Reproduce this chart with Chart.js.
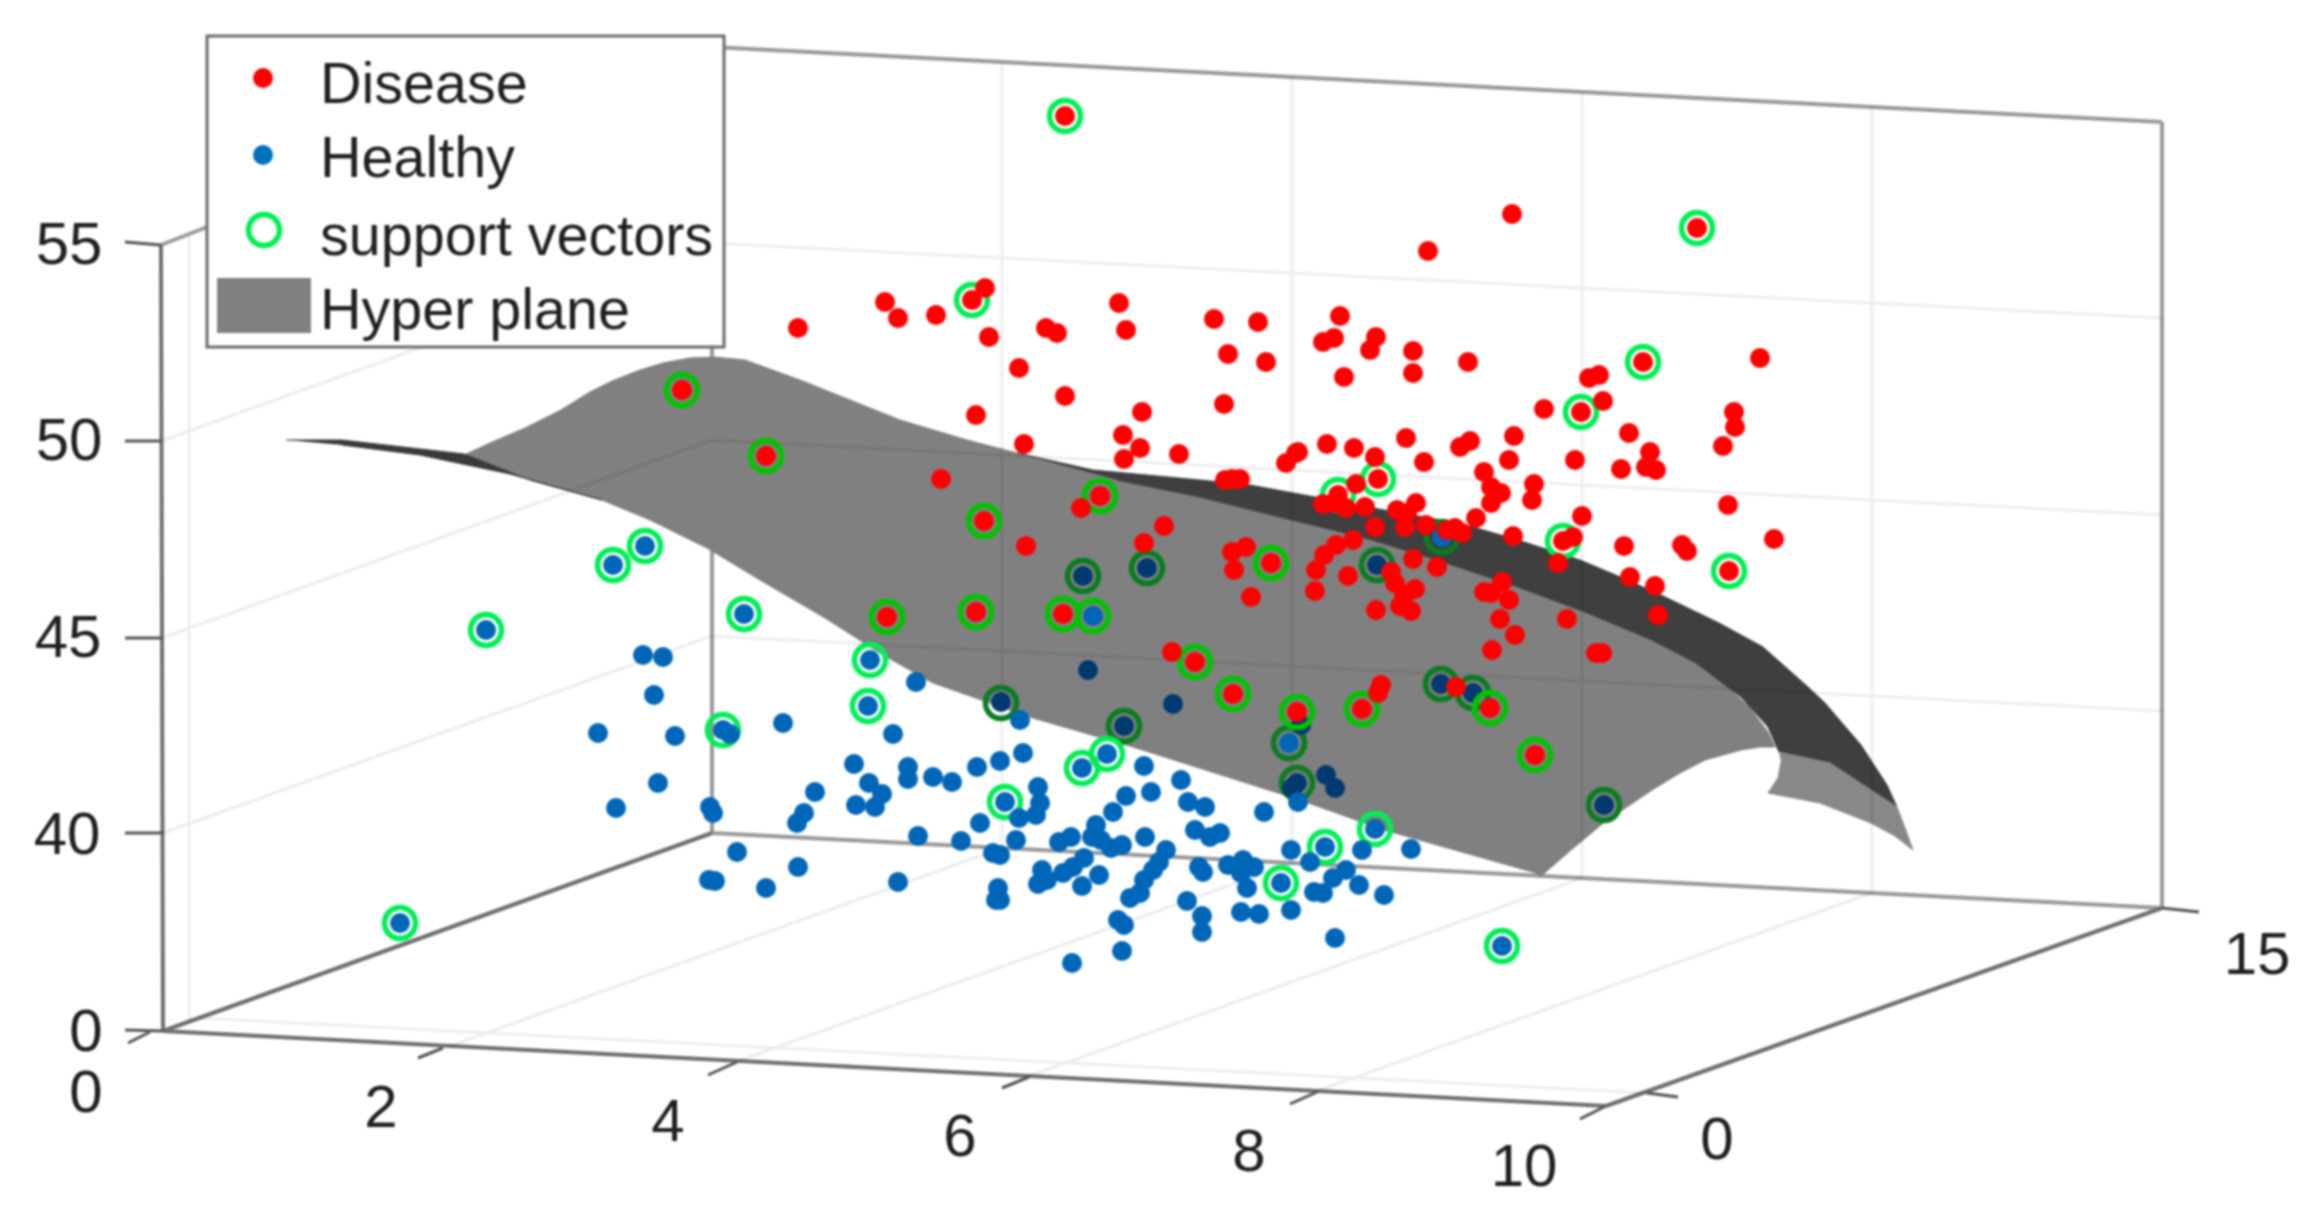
<!DOCTYPE html>
<html>
<head>
<meta charset="utf-8">
<title>Hyper plane</title>
<script src="https://cdn.jsdelivr.net/npm/chart.js@4"></script>
<style>
    body { margin: 0; background: #fff; }
    canvas { display: block; filter: blur(0.8px); }
</style>
</head>
<body>
<canvas id="chart" width="2309" height="1214"></canvas>
<script>
// The source is a 3D plot seen from a fixed camera, so every value here is the
// projected position (horizontal, vertical).

const legendNames = ['Disease', 'Healthy', 'support vectors', 'Hyper plane'];

const disease = [
    [885,302],[898,318],[936,315],[985,288],[989,337],[798,328],[1046,328],[1057,333],[1119,303],[1126,330],
    [1214,319],[1258,322],[1228,354],[1266,362],[1019,368],[1065,396],[976,415],[1142,412],[1224,404],[1123,435],
    [1140,448],[1124,459],[1179,454],[1024,444],[941,479],[1286,463],[1296,453],[1225,480],[1232,479],[1240,479],
    [1081,508],[1026,546],[1164,526],[1144,543],[1232,552],[1246,547],[1234,570],[1251,597],[1172,652],
    [1512,214],[1428,251],[1340,316],[1323,342],[1334,338],[1376,337],[1370,350],[1413,351],[1413,373],[1344,377],
    [1468,362],[1760,358],[1589,378],[1599,375],[1544,409],[1603,401],[1629,433],[1734,412],[1735,427],[1723,446],
    [1514,436],[1509,460],[1575,460],[1621,469],[1650,452],[1646,467],[1656,470],[1406,438],[1424,462],[1460,447],
    [1470,441],[1484,472],[1491,487],[1501,493],[1491,503],[1534,484],[1532,500],[1476,518],[1582,516],[1513,536],
    [1573,537],[1624,546],[1682,545],[1687,551],[1774,539],[1728,505],[1327,444],[1354,448],[1298,452],[1375,457],
    [1356,484],[1323,504],[1346,508],[1365,507],[1334,503],[1397,510],[1416,503],[1407,513],[1405,527],[1426,525],
    [1375,527],[1447,530],[1462,533],[1455,528],[1353,540],[1336,545],[1315,591],[1316,570],[1324,555],[1348,576],
    [1413,559],[1437,567],[1391,572],[1395,583],[1415,589],[1404,595],[1376,610],[1400,606],[1411,611],[1484,592],
    [1502,582],[1509,600],[1491,593],[1500,619],[1515,635],[1492,650],[1567,619],[1596,653],[1602,653],[1658,615],
    [1655,586],[1630,577],[1558,563],[1381,685],[1378,693],[1456,687]
];
const diseaseSupport = [
    [1065,116],[972,300],[1697,228],[1643,362],[1581,412],[1378,479],[1338,495],[1563,541],[1729,571],[682,390],
    [766,456],[984,521],[1100,496],[1271,563],[976,612],[887,617],[1063,614],[1195,662],[1233,694],[1297,712],
    [1362,709],[1490,708],[1535,755]
];

const healthy = [
    [643,655],[663,657],[654,695],[598,733],[675,736],[730,734],[783,723],[658,783],[616,808],[710,807],
    [713,813],[815,792],[804,813],[797,823],[854,764],[869,783],[882,794],[856,805],[875,807],[908,767],
    [908,779],[933,777],[952,782],[977,767],[1000,761],[1023,753],[893,734],[916,682],[1020,720],[1038,787],
    [918,836],[961,841],[980,823],[1016,840],[993,853],[737,852],[798,867],[709,880],[715,881],[766,888],
    [898,882],[998,888],[996,900],[1042,870],[1038,884],[1047,880],[1144,766],[1181,780],[1151,792],[1126,796],
    [1188,802],[1205,807],[1264,812],[1298,802],[1040,803],[1036,815],[1019,818],[1113,812],[1096,825],[1059,842],
    [1071,837],[1092,837],[1101,840],[1111,848],[1122,845],[1145,837],[1195,830],[1210,837],[1220,833],[1411,849],
    [1362,850],[1291,850],[1310,862],[1346,870],[1333,878],[1359,885],[1314,892],[1323,893],[1384,895],[1291,910],
    [1228,865],[1243,860],[1254,867],[1241,873],[1247,888],[1199,867],[1203,872],[1166,850],[1159,862],[1153,870],
    [1144,880],[1140,893],[1130,898],[1187,901],[1202,916],[1202,932],[1241,912],[1259,914],[1335,938],[1122,951],
    [1118,920],[1124,925],[1072,963],[1084,858],[1073,867],[1063,873],[1099,875],[1082,886],[1000,900],[1000,855]
];
const healthySupport = [
    [870,660],[868,706],[1107,754],[1082,768],[1005,802],[1281,883],[1325,847],[1375,829],[1502,946],[400,923],
    [486,630],[613,565],[645,546],[744,614],[723,730],[1093,616],[1289,743],[1442,537]
];
// healthy points that sit behind the surface and show through it darker
const healthyBehind = [
    [1083,576],[1147,568],[1088,670],[1173,704],[1001,702],[1124,726],[1297,783],[1292,788],[1326,775],[1335,788],
    [1377,565],[1441,684],[1473,693],[1604,805],[1301,725]
];

const ringsOpen = [
    [1065,116],[972,300],[1697,228],[1643,362],[1581,412],[1378,479],[1338,495],[1563,541],[1729,571],[870,660],
    [868,706],[1107,754],[1082,768],[1005,802],[1281,883],[1325,847],[1375,829],[1502,946],[400,923],[486,630],
    [613,565],[645,546],[744,614],[723,730]
];
const ringsOnSurface = [
    [682,390],[766,456],[984,521],[1100,496],[1271,563],[976,612],[887,617],[1063,614],[1093,616],[1195,662],
    [1233,694],[1297,712],[1362,709],[1490,708],[1535,755]
];
const ringsBehind = [
    [1083,576],[1147,568],[1001,703],[1124,726],[1289,743],[1297,783],[1377,565],[1441,684],[1473,693],[1604,805],[1442,537]
];

// Surface outlines
const surfaceMain = [
    [464,455],[490,443],[525,428],[561,410],[590,392],[612,381],[640,370],[663,363],[690,358],[714,357],[745,360],
    [800,380],[850,400],[900,420],[967,440],[1017,453],
    [1117,480],[1200,497],[1300,522],[1362,537],[1437,560],[1518,587],[1585,612],[1652,640],[1696,663],[1725,684],[1750,708],
    [1768,732],[1775,747],[1760,747],[1741,750],[1705,760],[1680,773],[1652,790],[1630,805],[1607,820],[1571,850],[1540,877],[1536,873],[1384,830],
    [1300,800],[1133,747],[1033,718],[933,683],[883,655],[825,618],[760,580],[707,548],[650,520],[602,500],[530,480]
];
const surfaceBand = [
    [1017,453],[1093,470],[1200,480],[1250,485],[1315,497],[1384,510],[1441,520],[1473,527],[1518,540],[1580,560],
    [1625,579],[1661,595],[1719,623],[1763,647],[1808,687],[1825,703],[1861,745],[1887,785],[1897,807],[1871,790],[1830,763],[1779,752],[1775,743],
    [1768,727],[1741,697],[1696,663],[1652,640],[1585,612],[1518,587],[1437,560],[1362,537],[1300,522],[1200,497],[1117,480]
];
const surfaceFar = [
    [1779,752],[1830,763],[1871,790],[1897,807],[1905,828],[1913,850],[1895,836],[1871,823],[1820,803],[1768,793],[1778,778],[1781,762]
];
const surfaceTail = [
    [286,440],[342,440],[464,454],[530,480],[602,500],[510,474],[420,455],[342,445]
];

// Box edges, each [x1, y1, x2, y2]
const backEdges = [
    [712,47,2162,122],[712,47,207,227],[207,227,161,245],[712,47,712,833],[2162,122,2162,908],[712,833,2162,908]
];
const frontEdges = [
    [161,245,163,1031],[163,1031,712,833],[163,1031,1606,1106],[1606,1106,2162,908]
];
const gridLines = [
    [161,441,712,243],[712,243,2162,318],[162,638,712,440],[712,440,2162,515],[163,833,712,636],[712,636,2162,711],
    [1002,62,1002,848],[1292,77,1292,863],[1582,92,1582,878],[1872,107,1872,893],
    [450,1046,1002,848],[738,1061,1292,863],[1029,1076,1582,878],[1317,1091,1872,893],
    [189,236,189,1020],[200,1018,1647,1093]
];
const tickMarks = [
    [125,242,161,245],[125,441,161,441],[125,638,162,638],[125,833,163,833],[125,1030,163,1031],
    [150,1032,128,1043],[443,1048,418,1058],[737,1062,708,1075],[1029,1077,1002,1088],[1317,1092,1290,1104],[1606,1106,1580,1119],
    [1647,1093,1678,1097],[2162,908,2199,912]
];

const zTickLabels = ['55', '50', '45', '40', '0'];
const zTickPlaces = [[69,245],[69,441],[68,638],[67,835],[86,1032]];
const xTickLabels = ['0', '2', '4', '6', '8', '10'];
const xTickPlaces = [[86,1093],[381,1108],[668,1122],[960,1137],[1249,1152],[1524,1167]];
const yTickLabels = ['0', '15'];
const yTickPlaces = [[1717,1140],[2257,955]];

function toPoints(pairs) {
    return pairs.map(p => ({ x: p[0], y: p[1] }));
}

function toSegments(edges) { // null points break the line between segments
    const out = [];
    edges.forEach(e => {
        out.push({ x: e[0], y: e[1] }, { x: e[2], y: e[3] }, { x: null, y: null });
    });
    return out;
}

function lines(edges, color, width, order) {
    return {
        type: 'line', data: toSegments(edges), borderColor: color, borderWidth: width,
        pointRadius: 0, spanGaps: false, tension: 0, fill: false, order: order
    };
}

function shape(name, pairs, color, order) {
    return {
        type: 'line', label: name, data: toPoints(pairs), borderColor: color, borderWidth: 1,
        backgroundColor: color, fill: 'shape', pointRadius: 0, tension: 0, order: order
    };
}

function dots(name, pairs, color, order) {
    return {
        type: 'scatter', label: name, data: toPoints(pairs), backgroundColor: color,
        borderWidth: 0, pointRadius: 10, order: order
    };
}

function rings(name, pairs, color, order) {
    return {
        type: 'scatter', label: name, data: toPoints(pairs), backgroundColor: 'rgba(0,0,0,0)',
        borderColor: color, borderWidth: 5.5, pointRadius: 15.5, order: order
    };
}

const legendAndLabels = {
    id: 'legendAndLabels',
    afterDatasetsDraw(chart) {
        const ctx = chart.ctx;
        const px = v => chart.scales.x.getPixelForValue(v);
        const py = v => chart.scales.y.getPixelForValue(v);

        ctx.save();
        ctx.fillStyle = '#1f1f1f';
        ctx.font = '60px "Liberation Sans"';
        ctx.textAlign = 'center';
        ctx.textBaseline = 'middle';
        [[zTickLabels, zTickPlaces], [xTickLabels, xTickPlaces], [yTickLabels, yTickPlaces]].forEach(group => {
            group[0].forEach((label, i) => {
                ctx.fillText(label, px(group[1][i][0]), py(group[1][i][1]) + 2);
            });
        });

        // legend box
        ctx.fillStyle = '#ffffff';
        ctx.strokeStyle = '#6a6a6a';
        ctx.lineWidth = 3;
        ctx.fillRect(px(207), py(36), px(724) - px(207), py(347) - py(36));
        ctx.strokeRect(px(207), py(36), px(724) - px(207), py(347) - py(36));

        ctx.beginPath();
        ctx.fillStyle = '#ff0000';
        ctx.arc(px(263), py(78), 10, 0, Math.PI * 2);
        ctx.fill();
        ctx.beginPath();
        ctx.fillStyle = '#0072bd';
        ctx.arc(px(263), py(155), 10, 0, Math.PI * 2);
        ctx.fill();
        ctx.beginPath();
        ctx.strokeStyle = '#00ee55';
        ctx.lineWidth = 5.5;
        ctx.arc(px(264), py(230), 15.5, 0, Math.PI * 2);
        ctx.stroke();
        ctx.fillStyle = '#808080';
        ctx.fillRect(px(217), py(278), 94, 55);

        ctx.fillStyle = '#1f1f1f';
        ctx.font = '57.5px "Liberation Sans"';
        ctx.textAlign = 'left';
        const legendRows = [87, 161, 239, 313];
        legendNames.forEach((name, i) => {
            ctx.fillText(name, px(320), py(legendRows[i]));
        });
        ctx.restore();
    }
};

new Chart(document.querySelector('#chart').getContext('2d'), {
    data: {
        datasets: [
            dots('Disease', disease.concat(diseaseSupport), '#ff0000', 1),
            dots('Healthy', healthy.concat(healthySupport), '#0066b8', 2),
            rings('support vectors', ringsOpen, '#00ee55', 3),
            rings('support vectors', ringsOnSurface, '#00c400', 4),
            dots('Healthy', healthyBehind, '#003a70', 5),
            rings('support vectors', ringsBehind, '#0a7d20', 6),
            lines(gridLines, 'rgba(0,0,0,0.07)', 3, 7),
            shape('Hyper plane', surfaceTail, '#3a3a3a', 8),
            shape('Hyper plane', surfaceFar, '#888888', 9),
            shape('Hyper plane', surfaceBand, '#3f3f3f', 10),
            shape('Hyper plane', surfaceMain, '#808080', 11),
            lines(tickMarks, '#555555', 3, 12),
            lines(frontEdges, '#6e6e6e', 4, 13),
            lines(backEdges, '#999999', 4, 14)
        ]
    },
    options: {
        responsive: false,
        animation: false,
        layout: { padding: 0, autoPadding: false },
        plugins: { legend: { display: false }, tooltip: { enabled: false } },
        scales: {
            x: { type: 'linear', min: 0, max: 2309, display: false },
            y: { type: 'linear', min: 0, max: 1214, reverse: true, display: false }
        }
    },
    plugins: [legendAndLabels]
});
</script>
</body>
</html>
